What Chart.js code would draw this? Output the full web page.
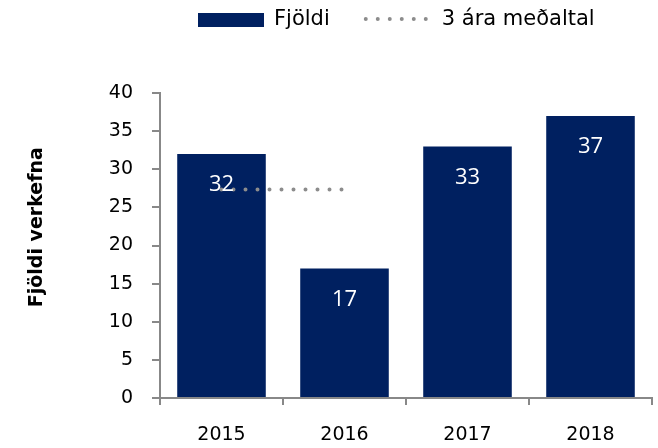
<!DOCTYPE html>
<html>
<head>
<meta charset="utf-8">
<script src="https://cdn.jsdelivr.net/npm/chart.js@4"></script>
<style>
  html, body { margin: 0; padding: 0; background: #fff; }
  #wrap { width: 658px; height: 448px; position: relative; }
</style>
</head>
<body>
<div id="wrap"><canvas id="c"></canvas></div>
<script>
const categories = ['2015', '2016', '2017', '2018'];
const countValues = [32, 17, 33, 37];
const avgValues = [27.33, 27.33, null, null];
const seriesNames = ['Fjöldi', '3 ára meðaltal'];
const yAxisTitle = 'Fjöldi verkefna';
const yMin = 0, yMax = 40, yStep = 5;

const NAVY = '#002060';
const GREY = '#8c8c8c';
const AXIS = '#888888';

// Legend drawn on the canvas from the datasets' own styles
const topLegend = {
  id: 'topLegend',
  afterDraw(chart) {
    const ctx = chart.ctx;
    const a = chart.chartArea;
    const ds = chart.data.datasets;
    const symW = 66, gapText = 10, gapItem = 34, cy = 20;
    ctx.save();
    ctx.font = '21px "DejaVu Sans"';
    ctx.textBaseline = 'middle';
    ctx.textAlign = 'left';
    let x = a.left + 38;
    // bar item
    ctx.fillStyle = ds[0].backgroundColor;
    ctx.fillRect(x, cy - 7, symW, 14);
    ctx.fillStyle = '#000';
    ctx.fillText(ds[0].label, x + symW + gapText, cy);
    x += symW + gapText + ctx.measureText(ds[0].label).width + gapItem;
    // line item
    ctx.strokeStyle = ds[1].borderColor;
    ctx.lineWidth = ds[1].borderWidth;
    ctx.lineCap = ds[1].borderCapStyle;
    ctx.setLineDash(ds[1].borderDash);
    ctx.beginPath();
    ctx.moveTo(x + 2, cy - 1);
    ctx.lineTo(x + symW, cy - 1);
    ctx.stroke();
    ctx.setLineDash([]);
    ctx.fillStyle = '#000';
    ctx.fillText(ds[1].label, x + symW + gapText + 2, cy);
    ctx.restore();
  }
};

const barLabels = {
  id: 'barLabels',
  afterDatasetsDraw(chart) {
    const ctx = chart.ctx;
    const meta = chart.getDatasetMeta(0);
    ctx.save();
    ctx.fillStyle = '#ffffff';
    ctx.font = '22px "Open Sans"';
    ctx.textAlign = 'center';
    ctx.textBaseline = 'middle';
    meta.data.forEach((bar, i) => {
      ctx.fillText(String(countValues[i]), bar.x, bar.y + 31);
    });
    ctx.restore();
  }
};

const yTitle = {
  id: 'yTitle',
  afterDraw(chart) {
    const ctx = chart.ctx;
    const a = chart.chartArea;
    ctx.save();
    ctx.translate(37, a.top + a.height * 0.44);
    ctx.rotate(-Math.PI / 2);
    ctx.fillStyle = '#000';
    ctx.font = 'bold 19px "DejaVu Sans"';
    ctx.textAlign = 'center';
    ctx.textBaseline = 'middle';
    ctx.fillText(yAxisTitle, 0, 0);
    ctx.restore();
  }
};

new Chart(document.getElementById('c'), {
  data: {
    labels: categories,
    datasets: [
      {
        type: 'bar',
        label: seriesNames[0],
        data: countValues,
        backgroundColor: NAVY,
        borderWidth: 0,
        barPercentage: 0.72,
        categoryPercentage: 1.0,
        order: 2
      },
      {
        type: 'line',
        label: seriesNames[1],
        data: avgValues,
        borderColor: GREY,
        backgroundColor: GREY,
        borderWidth: 4,
        borderDash: [0, 12],
        borderCapStyle: 'round',
        pointRadius: 0,
        fill: false,
        spanGaps: false,
        order: 1
      }
    ]
  },
  options: {
    responsive: true,
    maintainAspectRatio: false,
    animation: false,
    layout: { padding: { top: 93, right: 6, bottom: 0, left: 0 } },
    plugins: {
      tooltip: { enabled: false },
      legend: { display: false }
    },
    scales: {
      x: {
        afterFit(scale) { scale.height = 50; },
        grid: { display: true, drawOnChartArea: false, drawTicks: true, tickLength: 7, color: AXIS, lineWidth: 2, offset: true },
        border: { display: true, color: AXIS, width: 2 },
        ticks: { color: '#000', font: { family: 'DejaVu Sans', size: 19 }, padding: 19, maxRotation: 0 }
      },
      y: {
        min: yMin,
        max: yMax,
        afterFit(scale) { scale.width = 160; },
        grid: { display: true, drawOnChartArea: false, drawTicks: true, tickLength: 8, color: AXIS, lineWidth: 2 },
        border: { display: true, color: AXIS, width: 2 },
        ticks: { stepSize: yStep, color: '#000', font: { family: 'DejaVu Sans', size: 19 }, padding: 19 }
      }
    }
  },
  plugins: [barLabels, yTitle, topLegend]
});
</script>
</body>
</html>
